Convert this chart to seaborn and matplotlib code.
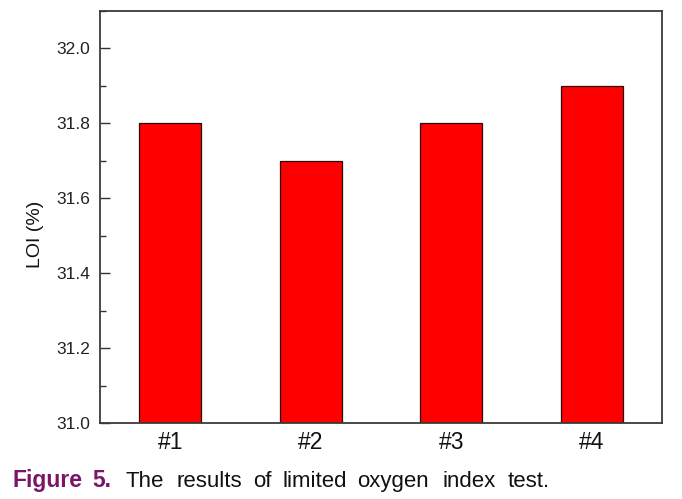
import matplotlib
matplotlib.use("Agg")
import matplotlib.pyplot as plt
import seaborn as sns
import pandas as pd
from matplotlib.ticker import MultipleLocator, FormatStrFormatter

samples = ["#1", "#2", "#3", "#4"]
loi = [31.8, 31.7, 31.8, 31.9]

caption_words = ["Figure", "5.", "The", "results", "of", "limited", "oxygen", "index", "test."]

sns.set_theme(style="white")
plt.rcParams["font.family"] = ["Liberation Sans", "DejaVu Sans"]

df = pd.DataFrame({"sample": samples, "LOI": loi})

fig = plt.figure(figsize=(6.82, 4.99), dpi=100)
ax = fig.add_axes([100/682, 1-423/499, 562/682, 412/499])

sns.barplot(data=df, x="sample", y="LOI", ax=ax, color="#FF0000",
            saturation=1, width=0.444, edgecolor="#2a0a0a", linewidth=0.9)

ax.set_xlim(-0.5, 3.5)
ax.set_ylim(31.0, 32.1)
ax.yaxis.set_major_locator(MultipleLocator(0.2))
ax.yaxis.set_minor_locator(MultipleLocator(0.1))
ax.yaxis.set_major_formatter(FormatStrFormatter("%.1f"))
ax.tick_params(axis="y", which="major", direction="in", length=7, width=1,
               color="#333333", labelsize=12.5, pad=7, left=True, labelcolor="#222222")
ax.tick_params(axis="y", which="minor", direction="in", length=4.5, width=1,
               color="#333333", left=True)
ax.tick_params(axis="x", length=0, labelsize=16.5, pad=6, labelcolor="#111111")
ax.set_xlabel("")
ax.set_ylabel("LOI (%)", fontsize=14, color="#111111")
ax.yaxis.set_label_coords(-0.1, 0.459)
for s in ax.spines.values():
    s.set_visible(True)
    s.set_color("#3a3a3a")
    s.set_linewidth(1.3)

xs = [12, 92, 125, 177, 253, 283, 357, 443, 508]
for i, (w, x) in enumerate(zip(caption_words, xs)):
    if i < 2:
        fig.text(x/682, 1-487/499, w, fontsize=16.5, fontweight="bold",
                 color="#7A1568", va="baseline")
    else:
        fig.text(x/682, 1-487/499, w, fontsize=16, color="#111111", va="baseline")

fig.savefig("out.png", dpi=100)
